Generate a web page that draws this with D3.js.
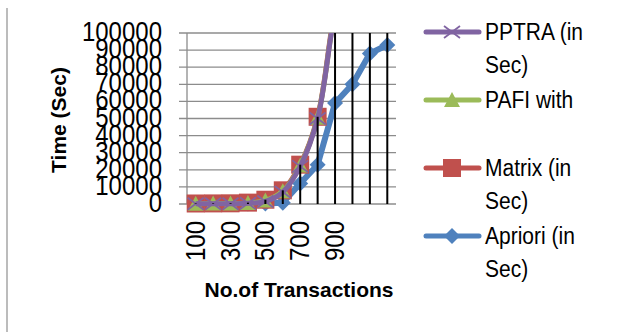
<!DOCTYPE html>
<html>
<head>
<meta charset="utf-8">
<script src="https://cdn.jsdelivr.net/npm/d3@7"></script>
<style>
  body { margin: 0; background: #fff; }
  text { font-family: "Liberation Sans", Arial, sans-serif; }
</style>
</head>
<body>
<svg id="chart" width="623" height="332"></svg>
<script>
// data
var categories = [100, 200, 300, 400, 500, 600, 700, 800, 900, 1000, 1100, 1200];
var xTickLabels = [100, 300, 500, 700, 900];
var yTicks = [0, 10000, 20000, 30000, 40000, 50000, 60000, 70000, 80000, 90000, 100000];
var pptra = [100, 150, 200, 400, 1500, 7000, 22000, 50000, 112000, 150000, 200000, 260000];
var pafi = [200, 250, 300, 600, 2000, 7500, 22500, 50500, 113000, 155000, 210000, 270000];
var matrix = [300, 350, 400, 800, 2500, 8000, 23000, 51000, 115000, 160000, 220000, 280000];
var apriori = [100, 150, 200, 250, 300, 800, 12000, 23000, 59000, 70000, 88000, 93000];

var series = [
  { name: ["Apriori (in", "Sec)"], values: apriori, color: "#4F81BD", marker: "diamond", smooth: false },
  { name: ["Matrix (in", "Sec)"], values: matrix, color: "#C0504D", marker: "square", smooth: true },
  { name: ["PAFI with"], values: pafi, color: "#9BBB59", marker: "triangle", smooth: true },
  { name: ["PPTRA (in", "Sec)"], values: pptra, color: "#8064A2", marker: "x", smooth: true }
];

var svg = d3.select("#chart"),
    margin = {left: 187, top: 33, right: 396, bottom: 204};

var x = d3.scaleBand().domain(categories).range([margin.left, margin.right]),
    y = d3.scaleLinear().domain([0, 100000]).range([margin.bottom, margin.top]);

function cx(d) { return x(d) + x.bandwidth() / 2; }

// left border line
svg.append("line")
    .attr("x1", 7).attr("x2", 7).attr("y1", 8).attr("y2", 332)
    .attr("stroke", "#a6a6a6").attr("stroke-width", 1.5);

svg.append("clipPath").attr("id", "plot")
  .append("rect")
    .attr("x", margin.left - 20).attr("y", margin.top)
    .attr("width", margin.right - margin.left + 40).attr("height", margin.bottom - margin.top + 20);

// gridlines
svg.append("g").selectAll("line")
    .data(yTicks)
  .enter().append("line")
    .attr("x1", margin.left - 8).attr("x2", margin.right)
    .attr("y1", function(d) { return y(d); })
    .attr("y2", function(d) { return y(d); })
    .attr("stroke", "#8c8c8c").attr("stroke-width", 1.3);

svg.append("line")
    .attr("x1", margin.left).attr("x2", margin.left)
    .attr("y1", margin.top).attr("y2", margin.bottom)
    .attr("stroke", "#8c8c8c").attr("stroke-width", 1.3);

// y tick labels
svg.append("g").selectAll("text")
    .data(yTicks)
  .enter().append("text")
    .attr("transform", function(d) { return "translate(162," + (y(d) + 8) + ") scale(1,1.15)"; })
    .attr("text-anchor", "end")
    .attr("font-size", 24)
    .text(function(d) { return d; });

// x tick labels
svg.append("g").selectAll("text")
    .data(xTickLabels)
  .enter().append("text")
    .attr("transform", function(d) { return "translate(" + (cx(d) + 9) + ",221) rotate(-90) scale(1,1.15)"; })
    .attr("text-anchor", "end")
    .attr("font-size", 24)
    .text(function(d) { return d; });

// axis titles
svg.append("text")
    .attr("transform", "translate(66,120) rotate(-90)")
    .attr("text-anchor", "middle")
    .attr("font-size", 21).attr("font-weight", "bold")
    .text("Time (Sec)");

svg.append("text")
    .attr("x", 299).attr("y", 297)
    .attr("text-anchor", "middle")
    .attr("font-size", 21).attr("font-weight", "bold")
    .text("No.of Transactions");

function drawMarker(g, type, color) {
  if (type === "diamond") {
    g.append("path").attr("d", "M0,-8L8,0L0,8L-8,0Z").attr("fill", color);
  } else if (type === "square") {
    g.append("rect").attr("x", -9).attr("y", -9).attr("width", 18).attr("height", 18).attr("fill", color);
  } else if (type === "triangle") {
    g.append("path").attr("d", "M0,-8L8,7L-8,7Z").attr("fill", color);
  } else {
    g.append("path").attr("d", "M-8,-6L8,6M-8,6L8,-6").attr("stroke", color).attr("stroke-width", 1.8);
  }
}

var plot = svg.append("g").attr("clip-path", "url(#plot)");

series.forEach(function(s) {
  var line = d3.line()
      .x(function(d, i) { return cx(categories[i]); })
      .y(function(d) { return y(d); })
      .curve(s.smooth ? d3.curveCatmullRom.alpha(0.5) : d3.curveLinear);

  plot.append("path")
      .datum(s.values)
      .attr("d", line)
      .attr("fill", "none")
      .attr("stroke", s.color)
      .attr("stroke-width", s.marker === "diamond" ? 6 : 5)
      .attr("stroke-linejoin", "round");

  s.values.forEach(function(v, i) {
    if (v > 100000) return;
    var g = plot.append("g").attr("transform", "translate(" + cx(categories[i]) + "," + y(v) + ")");
    drawMarker(g, s.marker, s.color);
  });
});

// drop lines from highest series value down to the axis
var highest = categories.map(function(c, i) {
  return d3.max(series, function(s) { return s.values[i]; });
});
svg.append("g").selectAll("line")
    .data(categories)
  .enter().append("line")
    .attr("x1", function(d) { return cx(d); })
    .attr("x2", function(d) { return cx(d); })
    .attr("y1", function(d, i) { return y(Math.min(highest[i], 100000)); })
    .attr("y2", y(0))
    .attr("stroke", "#000").attr("stroke-width", 2);

// legend
var legendRows = [
  { s: series[3], y: 32 },
  { s: series[2], y: 100 },
  { s: series[1], y: 168 },
  { s: series[0], y: 236 }
];
legendRows.forEach(function(r) {
  svg.append("line")
      .attr("x1", 426).attr("x2", 479)
      .attr("y1", r.y).attr("y2", r.y)
      .attr("stroke", r.s.color).attr("stroke-width", 5)
      .attr("stroke-linecap", "round");
  var g = svg.append("g").attr("transform", "translate(452," + r.y + ")");
  drawMarker(g, r.s.marker, r.s.color);
  r.s.name.forEach(function(t, k) {
    svg.append("text")
        .attr("transform", "translate(485," + (r.y + 8 + k * 33) + ") scale(1,1.1)")
        .attr("font-size", 21)
        .text(t);
  });
});
</script>
</body>
</html>
